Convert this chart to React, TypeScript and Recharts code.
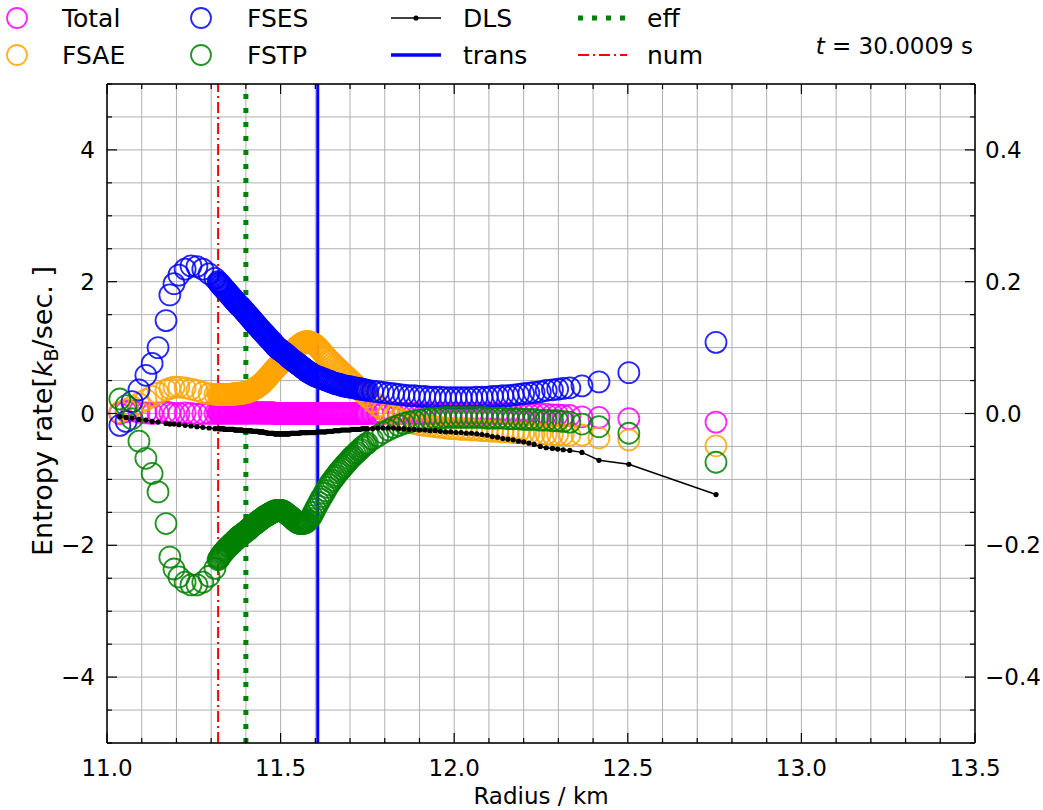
import React from 'react';
import {
  ComposedChart,
  Scatter,
  Line,
  XAxis,
  YAxis,
  CartesianGrid,
  ReferenceLine,
} from 'recharts';

// ---------------- data ----------------
const radius = [
  // sparse inner part
  11.037, 11.055, 11.072, 11.092, 11.112, 11.130, 11.147, 11.170, 11.181, 11.193, 11.207, 11.225, 11.242, 11.259, 11.276, 11.294, 11.311,
  // dense part 1
  11.3200, 11.3225, 11.3250, 11.3275, 11.3300, 11.3325, 11.3350, 11.3375, 11.3400, 11.3425,
  11.3450, 11.3475, 11.3500, 11.3525, 11.3550, 11.3575, 11.3600, 11.3625, 11.3650, 11.3675,
  11.3700, 11.3725, 11.3750, 11.3775, 11.3800, 11.3825, 11.3850, 11.3875, 11.3900, 11.3925,
  11.3950, 11.3975, 11.4000, 11.4025, 11.4050, 11.4075, 11.4100, 11.4125, 11.4150, 11.4175,
  11.4200, 11.4225, 11.4250, 11.4275, 11.4300, 11.4325, 11.4350, 11.4375, 11.4400, 11.4425,
  11.4450, 11.4475, 11.4500,
  // dense part 2
  11.4525, 11.4550, 11.4575, 11.4600, 11.4625, 11.4650, 11.4675, 11.4700, 11.4725, 11.4750,
  11.4775, 11.4800, 11.4825, 11.4850, 11.4875, 11.4900, 11.4925, 11.4950, 11.4975, 11.5000,
  11.5025, 11.5050, 11.5075, 11.5100, 11.5125, 11.5150, 11.5175, 11.5200, 11.5225, 11.5250,
  11.5275, 11.5300, 11.5325, 11.5350, 11.5375, 11.5400, 11.5425, 11.5450, 11.5475, 11.5500,
  11.5525, 11.5550, 11.5575, 11.5600, 11.5625, 11.5650, 11.5675, 11.5700, 11.5725, 11.5750,
  11.5775, 11.5800,
  // transition
  11.585, 11.590, 11.595, 11.600, 11.605, 11.610, 11.615, 11.620, 11.625, 11.630,
  11.635, 11.640, 11.645, 11.650, 11.655, 11.660, 11.665, 11.670, 11.675, 11.680,
  11.685, 11.690, 11.695, 11.700, 11.705, 11.710, 11.715, 11.720, 11.725, 11.730,
  11.735, 11.740, 11.745, 11.750,
  // outer part
  11.765, 11.780, 11.795, 11.810, 11.825, 11.840, 11.855, 11.870, 11.885, 11.900,
  11.915, 11.930, 11.945, 11.960, 11.975, 11.990, 12.005, 12.020, 12.035, 12.050,
  12.065, 12.080, 12.095, 12.110, 12.125, 12.140, 12.155, 12.170, 12.185, 12.200,
  12.215, 12.230,
  // sparse edge
  12.248, 12.265, 12.283, 12.298, 12.314, 12.333, 12.368, 12.417, 12.503, 12.754,
];

const fses = [
  -0.18, -0.12, 0.18, 0.36, 0.58, 0.76, 1.00, 1.41, 1.80, 1.97, 2.10, 2.19, 2.24, 2.23, 2.19, 2.12, 2.05,
  2.00, 1.98, 1.97, 1.95, 1.94, 1.92, 1.91, 1.89, 1.88, 1.86,
  1.85, 1.83, 1.82, 1.80, 1.79, 1.77, 1.76, 1.74, 1.73, 1.71,
  1.70, 1.68, 1.67, 1.65, 1.64, 1.63, 1.62, 1.60, 1.59, 1.57,
  1.56, 1.54, 1.53, 1.51, 1.50, 1.48, 1.47, 1.45, 1.44, 1.42,
  1.41, 1.39, 1.38, 1.36, 1.35, 1.33, 1.32, 1.30, 1.29, 1.27,
  1.26, 1.24, 1.23,
  1.22, 1.20, 1.19, 1.17, 1.16, 1.14, 1.13, 1.12, 1.10, 1.09,
  1.07, 1.06, 1.04, 1.03, 1.01, 1.00, 0.99, 0.98, 0.97, 0.96,
  0.95, 0.94, 0.93, 0.92, 0.91, 0.90, 0.89, 0.88, 0.86, 0.85,
  0.84, 0.83, 0.82, 0.81, 0.80, 0.79, 0.78, 0.77, 0.76, 0.75,
  0.74, 0.73, 0.72, 0.71, 0.70, 0.69, 0.68, 0.67, 0.66, 0.65,
  0.64, 0.63,
  0.61, 0.60, 0.58, 0.57, 0.56, 0.55, 0.54, 0.53, 0.52, 0.51,
  0.50, 0.49, 0.48, 0.47, 0.46, 0.45, 0.45, 0.44, 0.43, 0.42,
  0.42, 0.41, 0.41, 0.40, 0.40, 0.39, 0.39, 0.38, 0.38, 0.37,
  0.37, 0.36, 0.36, 0.35,
  0.34, 0.33, 0.32, 0.31, 0.30, 0.29, 0.28, 0.27, 0.27, 0.26,
  0.26, 0.25, 0.25, 0.25, 0.24, 0.24, 0.24, 0.24, 0.24, 0.24,
  0.25, 0.25, 0.25, 0.26, 0.26, 0.27, 0.27, 0.28, 0.29, 0.30,
  0.31, 0.32,
  0.33, 0.35, 0.36, 0.37, 0.38, 0.39, 0.42, 0.48, 0.62, 1.08,
];

const fsae = [
  0.02, 0.06, 0.10, 0.15, 0.21, 0.26, 0.31, 0.36, 0.38, 0.40, 0.40, 0.39, 0.37, 0.35, 0.32, 0.30, 0.29,
  0.29, 0.29, 0.29, 0.29, 0.29, 0.29, 0.29, 0.29, 0.29, 0.29,
  0.29, 0.29, 0.29, 0.29, 0.29, 0.29, 0.29, 0.29, 0.30, 0.30,
  0.30, 0.30, 0.30, 0.30, 0.30, 0.31, 0.31, 0.31, 0.31, 0.31,
  0.32, 0.32, 0.32, 0.32, 0.33, 0.33, 0.34, 0.34, 0.35, 0.35,
  0.36, 0.37, 0.38, 0.38, 0.39, 0.40, 0.41, 0.42, 0.43, 0.44,
  0.45, 0.46, 0.48,
  0.49, 0.50, 0.52, 0.53, 0.55, 0.56, 0.58, 0.59, 0.61, 0.62,
  0.64, 0.65, 0.67, 0.68, 0.70, 0.71, 0.73, 0.74, 0.75, 0.76,
  0.78, 0.79, 0.81, 0.82, 0.83, 0.84, 0.86, 0.87, 0.88, 0.89,
  0.91, 0.92, 0.93, 0.94, 0.96, 0.97, 0.98, 0.99, 1.01, 1.02,
  1.03, 1.04, 1.05, 1.06, 1.07, 1.07, 1.08, 1.08, 1.09, 1.09,
  1.09, 1.09,
  1.08, 1.07, 1.06, 1.04, 1.02, 0.99, 0.96, 0.93, 0.90, 0.87,
  0.84, 0.81, 0.79, 0.76, 0.73, 0.71, 0.68, 0.66, 0.63, 0.61,
  0.58, 0.56, 0.53, 0.51, 0.48, 0.46, 0.43, 0.41, 0.38, 0.35,
  0.33, 0.30, 0.28, 0.25,
  0.18, 0.11, 0.05, 0.00, -0.04, -0.08, -0.11, -0.13, -0.15, -0.17,
  -0.18, -0.19, -0.20, -0.21, -0.22, -0.23, -0.23, -0.24, -0.24, -0.25,
  -0.25, -0.26, -0.26, -0.27, -0.27, -0.28, -0.28, -0.29, -0.29, -0.30,
  -0.30, -0.31,
  -0.31, -0.31, -0.32, -0.32, -0.32, -0.33, -0.33, -0.37, -0.40, -0.49,
];

const fstp = [
  0.22, 0.12, -0.08, -0.42, -0.68, -0.91, -1.19, -1.67, -2.18, -2.36, -2.48, -2.56, -2.60, -2.60, -2.56, -2.47, -2.35,
  -2.22, -2.20, -2.18, -2.16, -2.14, -2.12, -2.11, -2.09, -2.08, -2.06,
  -2.05, -2.03, -2.02, -2.01, -2.00, -1.98, -1.97, -1.96, -1.95, -1.93,
  -1.92, -1.91, -1.90, -1.88, -1.87, -1.86, -1.85, -1.84, -1.83, -1.82,
  -1.81, -1.80, -1.79, -1.78, -1.77, -1.76, -1.75, -1.73, -1.72, -1.71,
  -1.70, -1.69, -1.68, -1.67, -1.66, -1.65, -1.64, -1.63, -1.62, -1.61,
  -1.60, -1.59, -1.58,
  -1.57, -1.56, -1.55, -1.55, -1.54, -1.53, -1.52, -1.52, -1.51, -1.50,
  -1.49, -1.49, -1.48, -1.48, -1.47, -1.47, -1.47, -1.47, -1.47, -1.47,
  -1.47, -1.48, -1.48, -1.49, -1.50, -1.51, -1.52, -1.53, -1.54, -1.55,
  -1.56, -1.57, -1.58, -1.60, -1.61, -1.62, -1.63, -1.64, -1.65, -1.66,
  -1.66, -1.67, -1.67, -1.67, -1.67, -1.67, -1.66, -1.66, -1.65, -1.65,
  -1.63, -1.62,
  -1.59, -1.55, -1.50, -1.45, -1.40, -1.35, -1.30, -1.26, -1.21, -1.17,
  -1.12, -1.08, -1.04, -1.01, -0.97, -0.94, -0.90, -0.87, -0.84, -0.81,
  -0.78, -0.75, -0.72, -0.69, -0.66, -0.64, -0.61, -0.59, -0.56, -0.54,
  -0.51, -0.49, -0.47, -0.45,
  -0.39, -0.34, -0.29, -0.25, -0.21, -0.18, -0.15, -0.13, -0.11, -0.10,
  -0.09, -0.08, -0.07, -0.07, -0.06, -0.06, -0.06, -0.06, -0.06, -0.06,
  -0.06, -0.06, -0.07, -0.07, -0.07, -0.07, -0.08, -0.08, -0.08, -0.09,
  -0.09, -0.09,
  -0.10, -0.10, -0.11, -0.11, -0.12, -0.13, -0.16, -0.20, -0.30, -0.74,
];

const total = [
  0.00, 0.03, 0.04, 0.02, 0.01, 0.00, 0.01, 0.02, 0.01, 0.00, 0.00, 0.01, 0.00, -0.01, 0.00, 0.00, 0.00,
  0.01, 0.01, 0.01, 0.01, 0.01, 0.01, 0.01, 0.01, 0.01, 0.01,
  0.01, 0.01, 0.01, 0.01, 0.01, 0.01, 0.01, 0.01, 0.01, 0.01,
  0.01, 0.01, 0.01, 0.01, 0.01, 0.01, 0.01, 0.01, 0.01, 0.01,
  0.01, 0.01, 0.01, 0.01, 0.01, 0.01, 0.01, 0.01, 0.01, 0.01,
  0.01, 0.01, 0.01, 0.01, 0.01, 0.01, 0.01, 0.01, 0.01, 0.01,
  0.01, 0.01, 0.01,
  0.01, 0.01, 0.01, 0.01, 0.01, 0.01, 0.01, 0.01, 0.01, 0.01,
  0.01, 0.01, 0.00, 0.00, 0.00, 0.00, 0.00, 0.00, 0.00, 0.00,
  0.00, 0.00, 0.00, 0.00, 0.00, 0.00, 0.00, 0.00, 0.00, 0.00,
  0.00, 0.00, 0.00, 0.00, 0.00, 0.00, 0.00, 0.00, 0.00, 0.00,
  0.00, 0.00, 0.00, 0.00, 0.00, 0.00, 0.00, 0.00, 0.00, 0.00,
  0.00, 0.00,
  0.00, 0.00, 0.00, 0.00, 0.00, 0.00, 0.00, 0.00, 0.00, 0.00,
  0.00, 0.00, 0.00, 0.00, 0.00, 0.00, 0.00, 0.00, 0.00, 0.00,
  0.00, 0.00, 0.00, 0.00, 0.00, 0.00, 0.00, 0.00, 0.00, 0.00,
  0.00, 0.00, 0.00, 0.00,
  0.00, 0.00, 0.00, 0.00, 0.00, 0.00, 0.00, 0.00, 0.00, 0.00,
  0.00, 0.00, 0.00, 0.00, 0.00, 0.00, 0.00, 0.00, 0.00, 0.00,
  0.00, 0.00, 0.00, 0.00, 0.00, 0.00, 0.00, -0.01, -0.01, -0.01,
  -0.01, -0.01,
  -0.01, -0.01, -0.02, -0.02, -0.03, -0.03, -0.05, -0.06, -0.08, -0.13,
];

const dls = [
  -0.05, -0.06, -0.07, -0.09, -0.10, -0.12, -0.13, -0.15, -0.16, -0.16, -0.17, -0.18, -0.19, -0.20, -0.21, -0.22, -0.23,
  -0.23, -0.23, -0.23, -0.23, -0.23, -0.23, -0.23, -0.24, -0.24, -0.24,
  -0.24, -0.24, -0.24, -0.24, -0.24, -0.24, -0.24, -0.24, -0.24, -0.25,
  -0.25, -0.25, -0.25, -0.25, -0.25, -0.25, -0.25, -0.25, -0.25, -0.26,
  -0.26, -0.26, -0.26, -0.26, -0.26, -0.26, -0.26, -0.26, -0.26, -0.27,
  -0.27, -0.27, -0.27, -0.27, -0.27, -0.27, -0.27, -0.28, -0.28, -0.28,
  -0.28, -0.28, -0.28,
  -0.29, -0.29, -0.29, -0.29, -0.30, -0.30, -0.30, -0.30, -0.30, -0.30,
  -0.30, -0.30, -0.31, -0.31, -0.31, -0.31, -0.31, -0.31, -0.31, -0.31,
  -0.31, -0.31, -0.31, -0.31, -0.31, -0.31, -0.31, -0.31, -0.31, -0.31,
  -0.30, -0.30, -0.30, -0.30, -0.30, -0.30, -0.30, -0.30, -0.30, -0.30,
  -0.30, -0.30, -0.29, -0.29, -0.29, -0.29, -0.29, -0.29, -0.29, -0.29,
  -0.29, -0.29,
  -0.29, -0.29, -0.29, -0.29, -0.28, -0.28, -0.28, -0.28, -0.28, -0.28,
  -0.27, -0.27, -0.27, -0.27, -0.26, -0.26, -0.26, -0.26, -0.25, -0.25,
  -0.25, -0.25, -0.25, -0.25, -0.24, -0.24, -0.24, -0.24, -0.24, -0.24,
  -0.23, -0.23, -0.23, -0.23,
  -0.23, -0.22, -0.22, -0.22, -0.22, -0.23, -0.23, -0.24, -0.24, -0.25,
  -0.25, -0.26, -0.26, -0.27, -0.28, -0.28, -0.29, -0.29, -0.30, -0.30,
  -0.31, -0.32, -0.33, -0.35, -0.36, -0.38, -0.39, -0.40, -0.42, -0.43,
  -0.45, -0.47,
  -0.50, -0.52, -0.53, -0.54, -0.55, -0.56, -0.59, -0.71, -0.77, -1.23,
];

// vertical marker radii
const numRadius = 11.32;
const effRadius = 11.40;
const transRadius = 11.607;

// axes
const xTicks = [
  11.0, 11.1, 11.2, 11.3, 11.4, 11.5, 11.6, 11.7, 11.8, 11.9,
  12.0, 12.1, 12.2, 12.3, 12.4, 12.5, 12.6, 12.7, 12.8, 12.9,
  13.0, 13.1, 13.2, 13.3, 13.4, 13.5,
];
const xMajorLabels = ['11.0', '11.5', '12.0', '12.5', '13.0', '13.5'];
const yTicks = [-5, -4.5, -4, -3.5, -3, -2.5, -2, -1.5, -1, -0.5, 0, 0.5, 1, 1.5, 2, 2.5, 3, 3.5, 4, 4.5, 5];
const yMajorLabels = ['−4', '−2', '0', '2', '4'];
const rightTicks = [-0.5, -0.45, -0.4, -0.35, -0.3, -0.25, -0.2, -0.15, -0.1, -0.05, 0, 0.05, 0.1, 0.15, 0.2, 0.25, 0.3, 0.35, 0.4, 0.45, 0.5];
const rightMajorLabels = ['−0.4', '−0.2', '0.0', '0.2', '0.4'];

const seriesNames = ['Total', 'FSAE', 'FSES', 'FSTP'];
const timeLabel = '30.0009';

const tableData = radius.map((r, i) => ({
  r,
  total: total[i],
  fsae: fsae[i],
  fses: fses[i],
  fstp: fstp[i],
  dls: dls[i],
}));

const FONT = "'DejaVu Sans', sans-serif";
const TICK_FS = 23;
const RING_R = 10.5;
const RING_W = 1.8;

const toNum = (s: string) => parseFloat(s.replace('−', '-'));
const isMultiple = (v: number, step: number) => Math.abs(v / step - Math.round(v / step)) < 1e-6;

const BottomTick = (props: any) => {
  const { x, y, payload } = props;
  const v = payload.value as number;
  const major = isMultiple(v, 0.5);
  const label = xMajorLabels.find((l) => Math.abs(toNum(l) - v) < 1e-6);
  return (
    <g>
      <line x1={x} y1={y} x2={x} y2={y - (major ? 10 : 5)} stroke="#000" strokeWidth={1.2} />
      {label && (
        <text x={x} y={y + 33} textAnchor="middle" fontSize={TICK_FS} fontFamily={FONT} fill="#000">
          {label}
        </text>
      )}
    </g>
  );
};

const TopTick = (props: any) => {
  const { x, y, payload } = props;
  const v = payload.value as number;
  const major = isMultiple(v, 0.5);
  return <line x1={x} y1={y} x2={x} y2={y + (major ? 10 : 5)} stroke="#000" strokeWidth={1.2} />;
};

const LeftTick = (props: any) => {
  const { x, y, payload } = props;
  const v = payload.value as number;
  const major = isMultiple(v, 2);
  const label = yMajorLabels.find((l) => Math.abs(toNum(l) - v) < 1e-6);
  return (
    <g>
      <line x1={x} y1={y} x2={x + (major ? 10 : 5)} y2={y} stroke="#000" strokeWidth={1.2} />
      {label && (
        <text x={x - 12} y={y + 8} textAnchor="end" fontSize={TICK_FS} fontFamily={FONT} fill="#000">
          {label}
        </text>
      )}
    </g>
  );
};

const RightTick = (props: any) => {
  const { x, y, payload } = props;
  const v = payload.value as number;
  const major = isMultiple(v, 0.2);
  const label = rightMajorLabels.find((l) => Math.abs(toNum(l) - v) < 1e-6);
  return (
    <g>
      <line x1={x} y1={y} x2={x - (major ? 10 : 5)} y2={y} stroke="#000" strokeWidth={1.2} />
      {label && (
        <text x={x + 10} y={y + 8} textAnchor="start" fontSize={TICK_FS} fontFamily={FONT} fill="#000">
          {label}
        </text>
      )}
    </g>
  );
};

const ringShape = (color: string) => (props: any) => {
  const { cx, cy } = props;
  if (cx == null || cy == null) return <g />;
  return <circle cx={cx} cy={cy} r={RING_R} fill="none" stroke={color} strokeWidth={RING_W} strokeOpacity={0.85} />;
};

const dlsDot = (props: any) => {
  const { cx, cy, index } = props;
  return <circle key={`d${index}`} cx={cx} cy={cy} r={2.6} fill="#000" stroke="none" />;
};

const COLORS = {
  total: '#ff00ff',
  fsae: '#ffa500',
  fses: '#0000ff',
  fstp: '#008000',
};

const Overlay = () => {
  const r1 = 18;
  const r2 = 55;
  const fs = 25;
  const off = 9;
  const ring = (cx: number, cy: number, c: string) => (
    <circle cx={cx} cy={cy} r={10} fill="none" stroke={c} strokeWidth={RING_W} strokeOpacity={0.85} />
  );
  return (
    <svg width={1043} height={810} style={{ position: 'absolute', left: 0, top: 0, pointerEvents: 'none' }}>
      {ring(17, r1, COLORS.total)}
      <text x={62} y={r1 + off} fontSize={fs} fontFamily={FONT}>{seriesNames[0]}</text>
      {ring(17, r2, COLORS.fsae)}
      <text x={62} y={r2 + off} fontSize={fs} fontFamily={FONT}>{seriesNames[1]}</text>
      {ring(201, r1, COLORS.fses)}
      <text x={247} y={r1 + off} fontSize={fs} fontFamily={FONT}>{seriesNames[2]}</text>
      {ring(201, r2, COLORS.fstp)}
      <text x={247} y={r2 + off} fontSize={fs} fontFamily={FONT}>{seriesNames[3]}</text>
      <line x1={391} y1={r1} x2={441} y2={r1} stroke="#000" strokeWidth={1.5} />
      <circle cx={416} cy={r1} r={2.6} fill="#000" />
      <text x={463} y={r1 + off} fontSize={fs} fontFamily={FONT}>DLS</text>
      <line x1={391} y1={r2} x2={441} y2={r2} stroke="#0000ff" strokeWidth={3.5} />
      <text x={463} y={r2 + off} fontSize={fs} fontFamily={FONT}>trans</text>
      <line x1={578} y1={r1} x2={627} y2={r1} stroke="#008000" strokeWidth={5} strokeDasharray="5 9" />
      <text x={647} y={r1 + off} fontSize={fs} fontFamily={FONT}>eff</text>
      <line x1={578} y1={r2} x2={627} y2={r2} stroke="#ff0000" strokeWidth={2} strokeDasharray="11 4 2 4" />
      <text x={647} y={r2 + off} fontSize={fs} fontFamily={FONT}>num</text>
      <text x={973} y={54} textAnchor="end" fontSize={23} fontFamily={FONT}>
        <tspan fontStyle="italic">t</tspan>
        <tspan> = {timeLabel} s</tspan>
      </text>
      <text x={541} y={804} textAnchor="middle" fontSize={23} fontFamily={FONT}>Radius / km</text>
      <text x={52} y={411} textAnchor="middle" fontSize={27} fontFamily={FONT} transform="rotate(-90 52 411)">
        <tspan>Entropy rate[</tspan>
        <tspan fontStyle="italic">k</tspan>
        <tspan fontSize={19} dy={6}>B</tspan>
        <tspan dy={-6}>/sec. ]</tspan>
      </text>
    </svg>
  );
};

export default function App() {
  return (
    <div style={{ position: 'absolute', left: 0, top: 0, width: 1043, height: 810, background: '#fff', fontFamily: FONT }}>
      <ComposedChart
        width={1043}
        height={810}
        data={tableData}
        margin={{ top: 54, right: 8, bottom: 37, left: 47 }}
      >
        <CartesianGrid stroke="#b0b0b0" strokeWidth={1} />
        <XAxis
          dataKey="r"
          type="number"
          domain={[11, 13.5]}
          ticks={xTicks}
          interval={0}
          allowDataOverflow
          height={30}
          tickSize={0}
          tickMargin={0}
          tickLine={false}
          tick={BottomTick}
          axisLine={{ stroke: '#000', strokeWidth: 1.5 }}
        />
        <XAxis
          xAxisId="top"
          orientation="top"
          dataKey="r"
          type="number"
          domain={[11, 13.5]}
          ticks={xTicks}
          interval={0}
          allowDataOverflow
          height={30}
          tickSize={0}
          tickMargin={0}
          tickLine={false}
          tick={TopTick}
          axisLine={{ stroke: '#000', strokeWidth: 1.5 }}
        />
        <YAxis
          type="number"
          domain={[-5, 5]}
          ticks={yTicks}
          interval={0}
          allowDataOverflow
          width={60}
          tickSize={0}
          tickMargin={0}
          tickLine={false}
          tick={LeftTick}
          axisLine={{ stroke: '#000', strokeWidth: 1.5 }}
        />
        <YAxis
          yAxisId="right"
          orientation="right"
          type="number"
          domain={[-0.5, 0.5]}
          ticks={rightTicks}
          interval={0}
          allowDataOverflow
          width={60}
          tickSize={0}
          tickMargin={0}
          tickLine={false}
          tick={RightTick}
          axisLine={{ stroke: '#000', strokeWidth: 1.5 }}
        />
        <Scatter dataKey="total" shape={ringShape(COLORS.total)} isAnimationActive={false} />
        <Scatter dataKey="fsae" shape={ringShape(COLORS.fsae)} isAnimationActive={false} />
        <Scatter dataKey="fses" shape={ringShape(COLORS.fses)} isAnimationActive={false} />
        <Scatter dataKey="fstp" shape={ringShape(COLORS.fstp)} isAnimationActive={false} />
        <Line dataKey="dls" stroke="#000" strokeWidth={1.5} dot={dlsDot} activeDot={false} isAnimationActive={false} />
        <ReferenceLine x={numRadius} stroke="#ff0000" strokeWidth={2} strokeDasharray="11 4 2 4" />
        <ReferenceLine x={effRadius} stroke="#008000" strokeWidth={5} strokeDasharray="5 9" />
        <ReferenceLine x={transRadius} stroke="#0000ff" strokeWidth={3} />
      </ComposedChart>
      <Overlay />
    </div>
  );
}
